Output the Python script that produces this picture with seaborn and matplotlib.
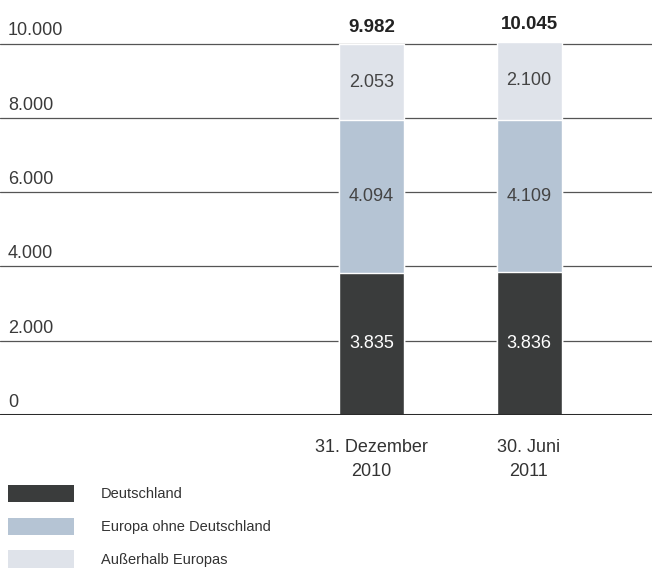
import numpy as np
import pandas as pd
import matplotlib
matplotlib.use("Agg")
import matplotlib.pyplot as plt
import matplotlib.transforms as mtransforms
from matplotlib.patches import Patch
import seaborn as sns

# Daten
stichtage = ["31. Dezember\n2010", "30. Juni\n2011"]
deutschland = [3835, 3836]
europa_ohne_de = [4094, 4109]
ausserhalb = [2053, 2100]
gesamt = [9982, 10045]
regionen = ["Deutschland", "Europa ohne Deutschland", "Außerhalb Europas"]
y_ticks = [0, 2000, 4000, 6000, 8000, 10000]

farben = ["#3a3c3c", "#b5c4d4", "#dfe3ea"]

def fmt_de(v):
    return f"{v:,.0f}".replace(",", ".")

sns.set_style("white")
plt.rcParams["font.family"] = ["Liberation Sans Narrow", "Liberation Sans", "DejaVu Sans"]

df = pd.DataFrame({
    "Stichtag": stichtage,
    "Deutschland": deutschland,
    "Europa": europa_ohne_de,
    "Ausserhalb": ausserhalb,
})
df["kum1"] = df["Deutschland"]
df["kum2"] = df["Deutschland"] + df["Europa"]
df["kum3"] = df["kum2"] + df["Ausserhalb"]

fig = plt.figure(figsize=(6.52, 5.73), dpi=100)
ax = fig.add_axes([0, 1 - 415 / 573, 1, 415 / 573])
px = 2000 / 74.3  # Dateneinheiten pro Pixel

# Gitterlinien hinter den Balken
for t in y_ticks[1:]:
    ax.axhline(t, color="#555555", lw=0.9, zorder=0)
ax.axhline(0, color="#2a2a2a", lw=2.2, zorder=5)

# gestapelte Balken: kumulierte Summen übereinander zeichnen
breite = 65 / 157.5
for spalte, farbe in zip(["kum3", "kum2", "kum1"], farben[::-1]):
    sns.barplot(data=df, x="Stichtag", y=spalte, color=farbe, width=breite,
                saturation=1, ax=ax, zorder=2)

ax.set_xlim(-371.5 / 157.5, 1 + (652 - 529) / 157.5)
ax.set_ylim(0, 415 * px)
ax.set_xlabel("")
ax.set_ylabel("")
ax.set_xticks([])
ax.set_yticks([])
sns.despine(ax=ax, left=True, bottom=True)

# Y-Beschriftungen über den Gitterlinien
trans = mtransforms.blended_transform_factory(fig.transFigure, ax.transData)
for t in y_ticks:
    ax.annotate(fmt_de(t), xy=(8 / 652, t), xycoords=trans, xytext=(0, 3),
                textcoords="offset points", ha="left", va="bottom",
                fontsize=13, color="#3a3a3a")

# Werte in den Segmenten
for i in range(len(stichtage)):
    segs = [(0, deutschland[i]),
            (deutschland[i], europa_ohne_de[i]),
            (deutschland[i] + europa_ohne_de[i], ausserhalb[i])]
    for (unten, hoehe), farbe_txt in zip(segs, ["white", "#444444", "#444444"]):
        ax.text(i, unten + hoehe / 2, fmt_de(hoehe), ha="center", va="center",
                fontsize=13, color=farbe_txt, zorder=6)
    ax.annotate(fmt_de(gesamt[i]), xy=(i, gesamt[i]), xytext=(0, 6),
                textcoords="offset points", ha="center", va="bottom",
                fontsize=13.5, fontweight="bold", color="#222222")
    ax.text(i, -24 * px, stichtage[i], ha="center", va="top",
            fontsize=13, color="#333333", linespacing=1.55)

handles = [Patch(facecolor=f, edgecolor="none") for f in farben]
fig.legend(handles, regionen, loc="upper left", bbox_to_anchor=(8 / 652, 1 - 485 / 573),
           frameon=False, fontsize=10.5, handlelength=4.5, handleheight=1.45,
           handletextpad=1.85, labelspacing=1.05, borderaxespad=0, borderpad=0,
           labelcolor="#333333")

fig.savefig("out.png", dpi=100)
